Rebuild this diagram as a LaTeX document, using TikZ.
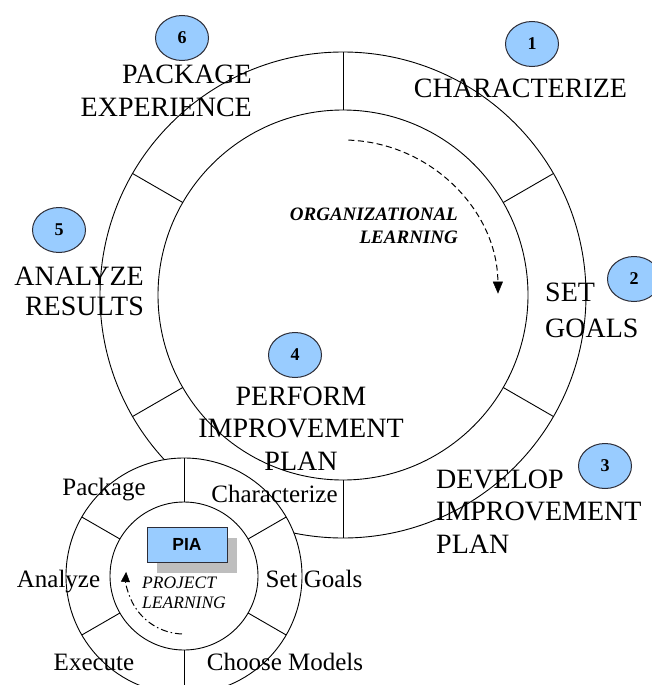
\documentclass[tikz,border=0pt]{standalone}
\usepackage{fontspec}
\setmainfont{Liberation Serif}
\newfontfamily\boxfont{Liberation Sans}
\usetikzlibrary{arrows.meta,calc,shapes.geometric,shadows}

\definecolor{badgeblue}{RGB}{153,204,255}
\definecolor{badgeedge}{RGB}{45,45,55}
\definecolor{shadowgray}{RGB}{190,190,190}

\begin{document}
\begin{tikzpicture}[x=1pt,y=-1pt,
  ring/.style={draw=black, line width=0.9pt, circle, inner sep=0pt, outer sep=0pt},
  divider/.style={draw=black, line width=0.9pt},
  badge/.style={ellipse, draw=badgeedge, line width=1pt, fill=badgeblue,
    minimum width=53pt, minimum height=45pt, inner sep=0pt,
    font=\fontsize{18}{18}\selectfont\bfseries},
  phase/.style={inner sep=0pt, font=\fontsize{28}{32.5}\selectfont},
  subphase/.style={inner sep=0pt, font=\fontsize{25}{28}\selectfont},
  cyclelabel/.style={inner sep=0pt},
  piabox/.style={draw=badgeedge, line width=1pt, fill=badgeblue,
    minimum width=80pt, minimum height=35pt, inner sep=0pt,
    font=\boxfont\fontsize{17.5}{17.5}\selectfont\bfseries,
    drop shadow={shadow xshift=10pt, shadow yshift=-11pt, fill=shadowgray, opacity=1}},
  orgflow/.style={draw=black, line width=1pt, dash pattern=on 6pt off 3.5pt,
    -{Triangle[width=10pt,length=12pt,fill=black,line width=0.5pt]}},
  projflow/.style={draw=black, line width=1pt, dash pattern=on 7pt off 3pt on 1.5pt off 3pt,
    -{Triangle[width=9pt,length=10pt,fill=black,line width=0.5pt]}}
]
\useasboundingbox (0,0) rectangle (652,685);

% organizational cycle: two rings split into six phases
\node[ring, minimum size=486pt] (bigout) at (343,295) {};
\node[ring, minimum size=370pt] (bigin) at (343,295) {};
\foreach \a in {90,30,-30,-90,150,210}
  \draw[divider] (bigin.\a) -- (bigout.\a);

% organizational learning loop
\coordinate (orgstart) at ($(bigin.center)+(88:155pt)$);
\draw[orgflow] (orgstart) arc[start angle=88, end angle=0.5, radius=155pt];
\node[cyclelabel, align=right, anchor=base east,
  font=\fontsize{19}{23}\selectfont\bfseries\itshape] (orglearn) at (458,243)
  {ORGANIZATIONAL\\LEARNING};

% phase labels of the organizational cycle (anchored at the last baseline)
\node[phase, anchor=base] (characterize) at (520.5,97) {CHARACTERIZE};
\node[phase, align=left, anchor=base west, font=\fontsize{28}{36}\selectfont]
  (setgoals) at (545,337) {SET\\GOALS};
\node[phase, align=left, anchor=base west] (develop) at (436,553)
  {DEVELOP\\IMPROVEMENT\\PLAN};
\node[phase, align=center, anchor=base] (perform) at (301,470)
  {PERFORM\\IMPROVEMENT\\PLAN};
\node[phase, align=right, anchor=base east, font=\fontsize{28}{30}\selectfont]
  (analyze) at (144,315) {ANALYZE\\RESULTS};
\node[phase, align=right, anchor=base east] (package) at (252,116) {PACKAGE\\EXPERIENCE};

% step numbers
\node[badge] (n1) at (532,44) {1};
\node[badge] (n2) at (634,279) {2};
\node[badge] (n3) at (605,466) {3};
\node[badge] (n4) at (295,355) {4};
\node[badge] (n5) at (59,230) {5};
\node[badge] (n6) at (182,38) {6};

% project cycle in the lower left corner
\node[ring, fill=white, minimum size=236pt] (smout) at (184,576) {};
\node[ring, minimum size=148pt] (smin) at (184,576) {};
\foreach \a in {90,30,-30,-90,150,210}
  \draw[divider] (smin.\a) -- (smout.\a);

\node[piabox] (pia) at (187,544.5) {PIA};

\coordinate (projstart) at ($(smin.center)+(268:58pt)$);
\draw[projflow] (projstart) arc[start angle=268, end angle=176, radius=58pt];
\node[cyclelabel, align=left, anchor=base west,
  font=\fontsize{17.5}{20}\selectfont\itshape] (projlearn) at (142,608)
  {PROJECT\\LEARNING};

\node[subphase, anchor=base] (spackage) at (104,495) {Package};
\node[subphase, anchor=base] (scharacterize) at (274.5,502) {Characterize};
\node[subphase, anchor=base] (ssetgoals) at (314,587) {Set Goals};
\node[subphase, anchor=base] (sanalyze) at (58.5,587) {Analyze};
\node[subphase, anchor=base] (sexecute) at (94,670) {Execute};
\node[subphase, anchor=base] (schoose) at (285,670) {Choose Models};
\end{tikzpicture}
\end{document}
